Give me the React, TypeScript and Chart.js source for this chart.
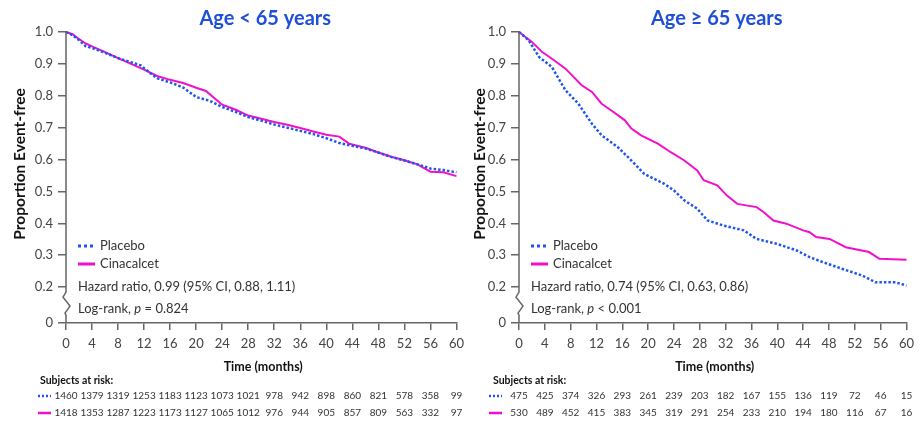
import React, { useEffect, useRef } from 'react';
import { Chart, registerables } from 'chart.js';

Chart.register(...registerables);

const FONT = 'Lato, "Open Sans", sans-serif';
const BLUE = '#1f55ee';
const MAGENTA = '#f20fcb';
const TITLE_BLUE = '#1f4fd8';
const AXIS = '#666666';
const TEXT = '#333333';

const Y_MIN = 0.0875;
const yTickValues = [Y_MIN, 0.2, 0.3, 0.4, 0.5, 0.6, 0.7, 0.8, 0.9, 1.0];
const riskMonths = [0, 4, 8, 12, 16, 20, 24, 28, 32, 36, 40, 44, 48, 52, 56, 60];

// Age < 65 years
const youngPlaceboMonths = [0, 1, 2, 3, 4, 6, 8, 10, 11.5, 13, 14, 16, 18, 20, 22, 24, 26, 28, 30, 32, 34, 36, 38, 40, 42, 44, 46, 48, 50, 52, 54, 56, 58, 60];
const youngPlaceboSurv = [1.0, 0.99, 0.975, 0.956, 0.95, 0.935, 0.918, 0.905, 0.895, 0.87, 0.855, 0.842, 0.826, 0.796, 0.785, 0.765, 0.75, 0.733, 0.722, 0.71, 0.7, 0.69, 0.68, 0.667, 0.652, 0.643, 0.635, 0.622, 0.608, 0.597, 0.585, 0.572, 0.567, 0.56];
const youngCinaMonths = [0, 1, 2, 3, 4, 6, 8, 10, 12, 14, 16, 18, 20, 21.5, 24, 26, 28, 30, 32, 34, 36, 38, 40, 42, 43.5, 46, 48, 50, 52, 54, 56, 58, 60];
const youngCinaSurv = [1.0, 0.993, 0.978, 0.964, 0.955, 0.937, 0.918, 0.9, 0.882, 0.862, 0.85, 0.84, 0.825, 0.815, 0.772, 0.757, 0.738, 0.728, 0.718, 0.709, 0.699, 0.688, 0.678, 0.672, 0.65, 0.637, 0.622, 0.609, 0.598, 0.585, 0.562, 0.56, 0.548];
const youngPlaceboRisk = [1460, 1379, 1319, 1253, 1183, 1123, 1073, 1021, 978, 942, 898, 860, 821, 578, 358, 99];
const youngCinaRisk = [1418, 1353, 1287, 1223, 1173, 1127, 1065, 1012, 976, 944, 905, 857, 809, 563, 332, 97];

// Age >= 65 years
const oldPlaceboMonths = [0, 1.5, 3.1, 5.1, 7.2, 9.2, 11.3, 12.8, 15.3, 17.4, 19.4, 22.5, 24, 25.6, 27.6, 29.2, 31.7, 34.8, 36.8, 39.9, 43, 45, 47.1, 50.1, 53.2, 55.2, 58.3, 60];
const oldPlaceboSurv = [1.0, 0.974, 0.922, 0.89, 0.817, 0.775, 0.712, 0.676, 0.639, 0.597, 0.555, 0.524, 0.503, 0.472, 0.446, 0.409, 0.393, 0.378, 0.351, 0.336, 0.315, 0.294, 0.278, 0.257, 0.236, 0.215, 0.215, 0.205];
const oldCinaMonths = [0, 2, 3.6, 5.1, 7.2, 9.7, 11.3, 12.8, 14.3, 16.4, 17.4, 18.9, 21.5, 23.5, 25.6, 27.6, 28.6, 30.7, 32.2, 33.8, 36.8, 37.9, 39.4, 41.4, 44, 45, 46, 48.1, 50.6, 54.2, 55.8, 60];
const oldCinaSurv = [1.0, 0.969, 0.937, 0.916, 0.885, 0.833, 0.812, 0.775, 0.754, 0.723, 0.697, 0.676, 0.65, 0.623, 0.597, 0.566, 0.535, 0.519, 0.487, 0.461, 0.451, 0.435, 0.409, 0.399, 0.378, 0.372, 0.357, 0.351, 0.325, 0.31, 0.289, 0.286];
const oldPlaceboRisk = [475, 425, 374, 326, 293, 261, 239, 203, 182, 167, 155, 136, 119, 72, 46, 15];
const oldCinaRisk = [530, 489, 452, 415, 383, 345, 319, 291, 254, 233, 210, 194, 180, 116, 67, 16];

type PanelCfg = {
  title: string;
  canvasLeft: number;
  canvasWidth: number;
  plotLeft: number;
  plotRight: number;
  yTitleX: number;
  riskLabelX: number;
  riskMarkX: number;
  placeboMonths: number[];
  placeboSurv: number[];
  cinaMonths: number[];
  cinaSurv: number[];
  placeboRisk: number[];
  cinaRisk: number[];
  hazard: string;
  pText: string;
};

function Panel({ cfg }: { cfg: PanelCfg }) {
  const ref = useRef<HTMLCanvasElement | null>(null);
  useEffect(() => {
    const canvas = ref.current;
    if (!canvas) return;
    const annot = {
      id: 'kmAnnot',
      afterDraw(chart: any) {
        const { ctx, chartArea: ca, scales } = chart;
        const xs = scales.x;
        const ys = scales.y;
        ctx.save();
        // y axis with break
        const ax = ca.left;
        const y2 = ys.getPixelForValue(0.2);
        ctx.strokeStyle = AXIS;
        ctx.lineWidth = 1.5;
        ctx.setLineDash([]);
        ctx.beginPath();
        ctx.moveTo(ax, ca.top - 1);
        ctx.lineTo(ax, y2 + 5);
        ctx.lineTo(ax - 3, y2 + 10);
        ctx.lineTo(ax + 4, y2 + 19);
        ctx.lineTo(ax - 1, y2 + 26);
        ctx.lineTo(ax, y2 + 28);
        ctx.lineTo(ax, ca.bottom);
        ctx.stroke();

        // title
        ctx.fillStyle = TITLE_BLUE;
        ctx.font = `bold 20px ${FONT}`;
        ctx.textAlign = 'center';
        ctx.textBaseline = 'alphabetic';
        ctx.fillText(cfg.title, (ca.left + ca.right) / 2 + 4, 25);

        // axis titles
        ctx.fillStyle = '#111';
        ctx.font = `bold 12.5px ${FONT}`;
        ctx.textBaseline = 'middle';
        ctx.fillText('Time (months)', (ca.left + ca.right) / 2 + 2, 367);
        ctx.save();
        ctx.font = `bold 15.5px ${FONT}`;
        ctx.translate(cfg.yTitleX, 164);
        ctx.rotate(-Math.PI / 2);
        ctx.fillText('Proportion Event-free', 0, 0);
        ctx.restore();

        // legend
        const datasets = chart.data.datasets;
        const lx = ca.left + 12;
        const rows = [246, 264];
        datasets.forEach((ds: any, i: number) => {
          ctx.strokeStyle = ds.borderColor;
          ctx.lineWidth = 3;
          ctx.setLineDash(i === 0 ? [3, 3] : []);
          ctx.beginPath();
          ctx.moveTo(lx, rows[i]);
          ctx.lineTo(lx + 17, rows[i]);
          ctx.stroke();
          ctx.setLineDash([]);
          ctx.fillStyle = TEXT;
          ctx.font = `13px ${FONT}`;
          ctx.textAlign = 'left';
          ctx.textBaseline = 'middle';
          ctx.fillText(ds.label, lx + 22, rows[i]);
        });
        ctx.fillText(cfg.hazard, lx, 287);
        let px = lx;
        const part1 = 'Log-rank, ';
        ctx.fillText(part1, px, 309);
        px += ctx.measureText(part1).width;
        ctx.font = `italic 13px ${FONT}`;
        ctx.fillText('p', px, 309);
        px += ctx.measureText('p').width;
        ctx.font = `13px ${FONT}`;
        ctx.fillText(cfg.pText, px, 309);

        // at-risk table
        ctx.fillStyle = '#111';
        ctx.font = `bold 10.5px ${FONT}`;
        ctx.fillText('Subjects at risk:', cfg.riskLabelX, 381);
        const riskRows = [
          { y: 396, vals: cfg.placeboRisk, color: BLUE, dash: [2, 2] },
          { y: 413, vals: cfg.cinaRisk, color: MAGENTA, dash: [] as number[] },
        ];
        riskRows.forEach((r) => {
          ctx.strokeStyle = r.color;
          ctx.lineWidth = 2.5;
          ctx.setLineDash(r.dash);
          ctx.beginPath();
          ctx.moveTo(cfg.riskMarkX, r.y);
          ctx.lineTo(cfg.riskMarkX + 13, r.y);
          ctx.stroke();
          ctx.setLineDash([]);
          ctx.fillStyle = TEXT;
          ctx.font = `10px ${FONT}`;
          ctx.textAlign = 'center';
          r.vals.forEach((v, i) => {
            ctx.fillText(String(v), xs.getPixelForValue(riskMonths[i]), r.y);
          });
        });
        ctx.restore();
      },
    };

    const chart = new Chart(canvas, {
      type: 'line',
      data: {
        datasets: [
          {
            label: 'Placebo',
            data: cfg.placeboMonths.map((t, i) => ({ x: t, y: cfg.placeboSurv[i] })),
            borderColor: BLUE,
            borderWidth: 2.5,
            borderDash: [2.5, 2],
            pointRadius: 0,
            fill: false,
            tension: 0,
            clip: false,
          },
          {
            label: 'Cinacalcet',
            data: cfg.cinaMonths.map((t, i) => ({ x: t, y: cfg.cinaSurv[i] })),
            borderColor: MAGENTA,
            borderWidth: 2,
            pointRadius: 0,
            fill: false,
            tension: 0,
            clip: false,
          },
        ],
      },
      options: {
        responsive: false,
        animation: false,
        layout: { padding: { left: 0, right: cfg.canvasWidth - cfg.plotRight, top: 32, bottom: 0 } },
        plugins: {
          legend: { display: false },
          title: { display: false },
          tooltip: { enabled: false },
        },
        scales: {
          x: {
            type: 'linear',
            min: 0,
            max: 60,
            afterBuildTicks: (s: any) => {
              s.ticks = riskMonths.map((v) => ({ value: v }));
            },
            afterFit: (s: any) => {
              s.height = 100;
            },
            ticks: {
              font: { family: FONT, size: 13 },
              color: '#444',
              padding: 6,
              maxRotation: 0,
              autoSkip: false,
            },
            grid: { drawOnChartArea: false, drawTicks: true, tickLength: 7, color: AXIS, lineWidth: 1.5 },
            border: { display: true, color: AXIS, width: 1.5 },
          },
          y: {
            type: 'linear',
            min: Y_MIN,
            max: 1.0,
            afterBuildTicks: (s: any) => {
              s.ticks = yTickValues.map((v) => ({ value: v }));
            },
            afterFit: (s: any) => {
              s.width = cfg.plotLeft;
            },
            ticks: {
              font: { family: FONT, size: 13 },
              color: '#444',
              padding: 5,
              callback: (v: any) => (Number(v) < 0.15 ? '0' : Number(v).toFixed(1)),
            },
            grid: { drawOnChartArea: false, drawTicks: true, tickLength: 8, color: AXIS, lineWidth: 1.5 },
            border: { display: false },
          },
        },
      } as any,
      plugins: [annot],
    });
    return () => chart.destroy();
  }, [cfg]);

  return (
    <canvas
      ref={ref}
      width={cfg.canvasWidth}
      height={423}
      style={{ position: 'absolute', left: cfg.canvasLeft, top: 0, width: cfg.canvasWidth, height: 423 }}
    />
  );
}

const youngCfg: PanelCfg = {
  title: 'Age < 65 years',
  canvasLeft: 0,
  canvasWidth: 470,
  plotLeft: 66,
  plotRight: 459,
  yTitleX: 20,
  riskLabelX: 40,
  riskMarkX: 38,
  placeboMonths: youngPlaceboMonths,
  placeboSurv: youngPlaceboSurv,
  cinaMonths: youngCinaMonths,
  cinaSurv: youngCinaSurv,
  placeboRisk: youngPlaceboRisk,
  cinaRisk: youngCinaRisk,
  hazard: 'Hazard ratio, 0.99 (95% CI, 0.88, 1.11)',
  pText: ' = 0.824',
};

const oldCfg: PanelCfg = {
  title: 'Age \u2265 65 years',
  canvasLeft: 470,
  canvasWidth: 450,
  plotLeft: 49,
  plotRight: 441,
  yTitleX: 10,
  riskLabelX: 23,
  riskMarkX: 19,
  placeboMonths: oldPlaceboMonths,
  placeboSurv: oldPlaceboSurv,
  cinaMonths: oldCinaMonths,
  cinaSurv: oldCinaSurv,
  placeboRisk: oldPlaceboRisk,
  cinaRisk: oldCinaRisk,
  hazard: 'Hazard ratio, 0.74 (95% CI, 0.63, 0.86)',
  pText: ' < 0.001',
};

export default function App() {
  return (
    <div style={{ position: 'absolute', left: 0, top: 0, width: 920, height: 423, background: '#fff', overflow: 'hidden' }}>
      <Panel cfg={youngCfg} />
      <Panel cfg={oldCfg} />
    </div>
  );
}
